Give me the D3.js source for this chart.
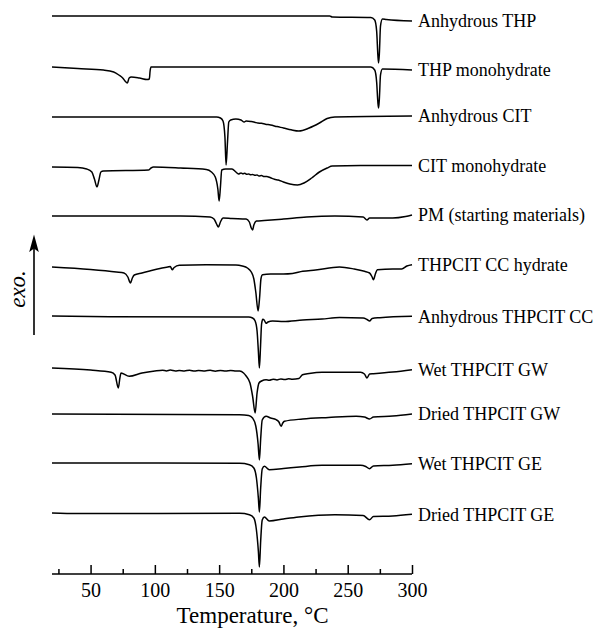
<!DOCTYPE html>
<html>
<head>
<meta charset="utf-8">
<script src="https://cdn.jsdelivr.net/npm/d3@7"></script>
<style>
  body { margin: 0; background: #fff; }
  svg { display: block; }
</style>
</head>
<body>
<svg id="chart" width="599" height="628"></svg>
<script>
// curve names, top to bottom
const sampleNames = [
  'Anhydrous THP', 'THP monohydrate', 'Anhydrous CIT', 'CIT monohydrate',
  'PM (starting materials)', 'THPCIT CC hydrate', 'Anhydrous THPCIT CC',
  'Wet THPCIT GW', 'Dried THPCIT GW', 'Wet THPCIT GE', 'Dried THPCIT GE'
];

// vertical stacking offset of each curve (arbitrary heat flow units)
const stackOffsets = [558, 507, 457, 407, 358, 307, 258, 206, 160, 111, 61];

// heat flow readings [temperature °C, signal], exo up
const anhydrousTHP = [[20,0],[236,0],[238,-1],[268,-1.5],[271,-4],[272.5,-15],[273.5,-40],[274,-47],[274.6,-38],[275.5,-10],[277,-3],[280,-3.5],[300,-5]];
const thpMonohydrate = [[20,0],[40,-1.5],[60,-3],[68,-5],[72,-8],[75,-11],[77.5,-15],[78.6,-16],[80,-11],[81.7,-10],[88,-11],[94,-12.5],[95.7,-12],[96.3,-4],[97,0],[100,0],[268,0],[271,-3],[272.5,-15],[273.5,-36],[274,-41],[274.6,-32],[275.5,-8],[277,-2],[300,-3]];
const anhydrousCIT = [[20,0],[148,0],[151,-1],[153,-4],[154.5,-20],[155.4,-48],[156.5,-25],[157.5,-5],[159,-3],[163,-2],[167,-3],[169.5,-5],[171,-4],[175,-4.6],[178,-5.4],[180,-6],[183,-6.3],[186,-7.2],[190,-8],[195,-9.6],[200,-11],[206,-12.8],[212,-14],[220,-11],[228,-6],[234,-1.5],[240,0],[300,1]];
const citMonohydrate = [[20,0],[40,-0.5],[47,-2],[51,-5],[53,-12],[55,-20],[56.5,-13],[58,-5],[60,-4],[95,-3],[97,-1],[99,0],[120,-1],[140,-2.5],[144,-5],[147,-10],[149,-22],[150,-34],[151,-20],[152,-3],[155,-2],[160,-2],[163,-5],[165,-7],[167,-6],[168.5,-6.8],[170,-6.3],[171.5,-7.3],[173,-6.9],[174.5,-7.8],[176,-7.4],[178,-8.3],[179.5,-7.9],[181,-9],[183,-8.6],[185,-9.6],[187,-9.4],[190,-10.8],[193,-12.3],[196,-13],[200,-15],[205,-17],[211,-18],[216,-16],[222,-11],[228,-5],[234,-1],[238,1],[260,1.5],[300,1.5]];
const physicalMixture = [[20,0],[120,0],[143,-1],[146,-3],[148,-8],[149.4,-11],[151,-6],[153,-2],[160,-2.5],[171,-3],[173.5,-6],[175,-12],[176,-14],[177,-9],[179,-5],[185,-4.5],[200,-3],[218,-1],[240,0],[262,-1],[265,-4],[267,-2],[285,-2],[295,-0.5],[300,1]];
const ccHydrate = [[20,0],[50,-2.5],[70,-5],[76,-6],[79,-10],[81,-16],[82.5,-11],[84,-8],[90,-6],[96,-4],[104,-1.5],[110,0],[112,0.5],[113.5,-2.7],[115,-0.5],[119,1.7],[140,2.3],[163,2],[168,1],[172,-1],[175,-5],[177,-12],[178.5,-25],[180.3,-44],[181.5,-30],[182.5,-12],[183.7,-7.7],[190,-7],[200,-7],[207,-6.5],[215,-4.3],[225,-3],[243.6,0],[255,-2],[263,-4.3],[267,-6],[269,-10],[270,-12.7],[271.5,-7],[273,-2.7],[285,-2],[292,-2],[296,1],[300,2.3]];
const anhydrousCC = [[20,0],[65,-0.7],[173,-1],[176,-2],[178,-5],[179.5,-15],[180.5,-35],[181.3,-52],[182.2,-30],[183,-8],[184,-3.3],[185,-4],[186.5,-7.3],[188,-6],[191.5,-5],[200,-5.5],[215,-4],[230,-3],[243.6,-1.6],[262,-2],[265,-3.5],[267,-5],[269,-2.5],[275,-1.7],[300,-0.3]];
const wetGW = [[20,0],[50,-2],[66,-4.3],[69,-7],[71.6,-20],[72.8,-10],[73.7,-5],[80,-8.3],[90,-5],[100,-3],[106,-2.3],[109,-2.9],[112,-2.1],[116,-3],[119,-2.4],[123,-2.9],[127,-2.2],[131,-3.1],[134,-2.5],[139,-2.9],[143,-2.3],[147,-3.2],[151,-2.5],[155,-3],[159,-2.4],[163,-2.9],[166,-3],[169,-5],[171,-8],[174,-15],[176,-28],[178,-45],[179.5,-25],[181,-15],[183,-13],[186.5,-11.7],[189,-12.3],[192,-11.2],[195,-11.9],[198,-10.9],[201,-11.6],[204,-10.8],[207,-11.3],[212,-10.5],[214.8,-6.7],[220,-5.5],[230,-4.3],[260,-4.3],[263,-6],[265,-10],[267,-6],[270,-5.7],[285,-4],[300,-1.7]];
const driedGW = [[20,0],[166,-0.7],[173,-1.5],[176,-4],[178.5,-12],[180.3,-30],[181.3,-46],[182.3,-25],[183.5,-6],[186.5,-2.3],[190,-4],[194.3,-5.7],[196.5,-8],[198.2,-12.3],[199.5,-9],[200.8,-7.3],[215,-5],[235,-3.5],[256.6,-2.3],[263,-3],[267,-5],[270,-3],[285,-2],[300,0]];
const wetGE = [[20,0],[166,-0.3],[173.5,-1.7],[177,-5],[179,-15],[180.5,-35],[181.3,-49],[182.3,-25],[183.5,-6],[185.2,-3.3],[189,-6.7],[200,-5.5],[212.5,-4],[230,-2.3],[260,-2.3],[264,-3.5],[267,-5.7],[270,-3],[285,-2.3],[300,-0.7]];
const driedGE = [[20,0],[40,-0.5],[166,-0.3],[173.5,-1.7],[177,-5],[179,-17],[180.5,-38],[181.3,-54],[182.3,-28],[183.5,-7],[185.2,-4],[189,-8],[200,-6],[212,-4],[240,-1.7],[262,-2.5],[267,-6.7],[270,-3.5],[285,-3],[300,-1.3]];

const sampleCurves = [anhydrousTHP, thpMonohydrate, anhydrousCIT, citMonohydrate, physicalMixture,
  ccHydrate, anhydrousCC, wetGW, driedGW, wetGE, driedGE];

const majorTicks = [50, 100, 150, 200, 250, 300];
const minorTicks = [25, 75, 125, 175, 225, 275];

const svg = d3.select('#chart');
const serif = '"Liberation Serif", "Times New Roman", serif';

const x = d3.scaleLinear().domain([20, 300]).range([52, 412]);
const y = d3.scaleLinear().domain([0, 570]).range([574, 4]);

const line = d3.line()
  .x(d => x(d[0]))
  .y(d => y(d[1]))
  .curve(d3.curveMonotoneX);

// curves
sampleCurves.forEach((pts, i) => {
  const shifted = pts.map(p => [p[0], p[1] + stackOffsets[i]]);
  svg.append('path')
    .attr('d', line(shifted))
    .attr('fill', 'none')
    .attr('stroke', '#000')
    .attr('stroke-width', 1.5)
    .attr('stroke-linejoin', 'round');

  const last = shifted[shifted.length - 1];
  svg.append('text')
    .attr('x', x(300) + 6)
    .attr('y', y(last[1]))
    .attr('dy', '0.35em')
    .style('font-family', serif)
    .style('font-size', '18px')
    .text(sampleNames[i]);
});

// x axis, ticks pointing inward
const axisG = svg.append('g').attr('transform', `translate(0,${y(0)})`);
axisG.call(d3.axisBottom(x).tickValues(majorTicks).tickSize(-9).tickSizeOuter(0).tickPadding(9));
axisG.append('g').call(d3.axisBottom(x).tickValues(minorTicks).tickSize(-5).tickFormat(''));
axisG.selectAll('path.domain').remove();
axisG.append('line')
  .attr('x1', x(20)).attr('x2', x(300))
  .attr('stroke', '#000').attr('stroke-width', 1.5);
axisG.selectAll('.tick line').attr('stroke', '#000').attr('stroke-width', 1.5);
axisG.selectAll('.tick text')
  .style('font-family', serif)
  .style('font-size', '20px')
  .attr('fill', '#000');

svg.append('text')
  .attr('x', x(176))
  .attr('y', 623)
  .attr('text-anchor', 'middle')
  .style('font-family', serif)
  .style('font-size', '23px')
  .text('Temperature, \u00B0C');

// exo arrow
svg.append('defs').append('marker')
  .attr('id', 'arrow')
  .attr('viewBox', '0 0 10 10')
  .attr('refX', 8).attr('refY', 5)
  .attr('markerWidth', 11).attr('markerHeight', 6)
  .attr('markerUnits', 'strokeWidth')
  .attr('orient', 'auto')
  .attr('preserveAspectRatio', 'none')
  .append('path')
  .attr('d', 'M0,0 L10,5 L0,10 L2,5 Z')
  .attr('fill', '#000');

svg.append('line')
  .attr('x1', 34).attr('y1', 335)
  .attr('x2', 34).attr('y2', 238)
  .attr('stroke', '#000')
  .attr('stroke-width', 1.6)
  .attr('marker-end', 'url(#arrow)');

svg.append('text')
  .attr('transform', 'translate(25,289) rotate(-90)')
  .attr('text-anchor', 'middle')
  .style('font-family', serif)
  .style('font-style', 'italic')
  .style('font-size', '23px')
  .text('exo.');
</script>
</body>
</html>
